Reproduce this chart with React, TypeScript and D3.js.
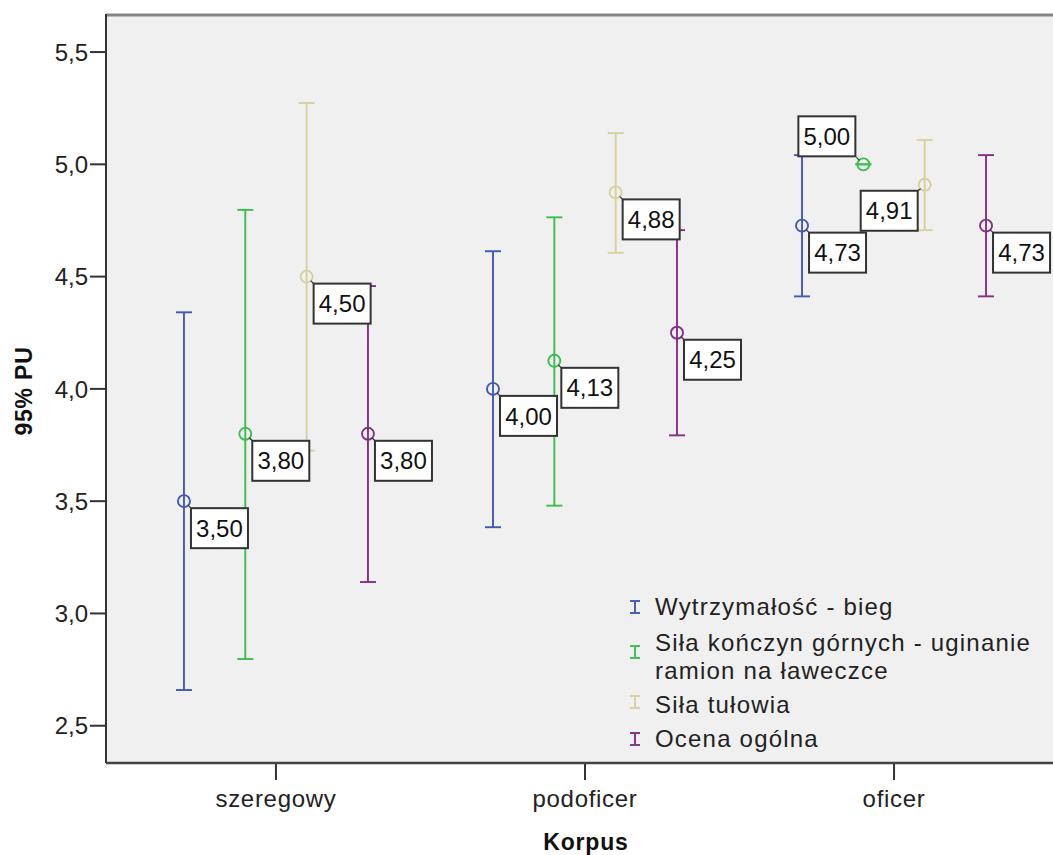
import React from "react";
import * as d3 from "d3";

// ---- Data ----
const categories = ["szeregowy", "podoficer", "oficer"];
const seriesNames = [
  "Wytrzymałość - bieg",
  "Siła kończyn górnych - uginanie ramion na ławeczce",
  "Siła tułowia",
  "Ocena ogólna",
];
const legendLines = [
  ["Wytrzymałość - bieg"],
  ["Siła kończyn górnych - uginanie", "ramion na ławeczce"],
  ["Siła tułowia"],
  ["Ocena ogólna"],
];
const seriesColors = ["#4059B4", "#3BBE4E", "#D6D29C", "#842F86"];

const meanWytrzymalosc = [3.5, 4.0, 4.727];
const lowerWytrzymalosc = [2.659, 3.384, 4.412];
const upperWytrzymalosc = [4.341, 4.613, 5.041];

const meanKonczyny = [3.8, 4.125, 5.0];
const lowerKonczyny = [2.797, 3.48, 5.0];
const upperKonczyny = [4.797, 4.764, 5.0];

const meanTulow = [4.5, 4.875, 4.909];
const lowerTulow = [3.725, 4.606, 4.707];
const upperTulow = [5.273, 5.139, 5.108];

const meanOcena = [3.8, 4.25, 4.727];
const lowerOcena = [3.14, 3.793, 4.412];
const upperOcena = [4.458, 4.707, 5.041];

// label box anchor per series per category: br = below-right, tl = above-left, bl = below-left
const labelPlacement = [
  ["br", "br", "br"],
  ["br", "br", "tl"],
  ["br", "br", "bl"],
  ["br", "br", "br"],
];

const yTicks = [2.5, 3.0, 3.5, 4.0, 4.5, 5.0, 5.5];
const yTitle = "95% PU";
const xTitle = "Korpus";

const means = [meanWytrzymalosc, meanKonczyny, meanTulow, meanOcena];
const lowers = [lowerWytrzymalosc, lowerKonczyny, lowerTulow, lowerOcena];
const uppers = [upperWytrzymalosc, upperKonczyny, upperTulow, upperOcena];

const W = 1053;
const H = 855;
const plot = { left: 106, right: 1064, top: 15, bottom: 763 };
const FONT = "'Liberation Sans', Arial, sans-serif";

export default function App() {
  const y = d3.scaleLinear().domain([2.334, 5.665]).range([plot.bottom, plot.top]);
  const x = d3.scalePoint<string>().domain(categories).range([plot.left, plot.right]).padding(0.55);
  const xo = d3.scalePoint<string>().domain(seriesNames).range([-92, 92]);
  const fmt = (v: number) => v.toFixed(2).replace(".", ",");
  const fmtTick = (v: number) => v.toFixed(1).replace(".", ",");

  const capW = 8;
  const r = 6;
  const boxW = 57;
  const boxH = 40;
  const off = 7;

  const marks: React.ReactNode[] = [];
  const labels: React.ReactNode[] = [];
  seriesNames.forEach((s, si) => {
    categories.forEach((c, ci) => {
      const cx = (x(c) as number) + (xo(s) as number);
      const m = y(means[si][ci]);
      const lo = y(lowers[si][ci]);
      const hi = y(uppers[si][ci]);
      const col = seriesColors[si];
      marks.push(
        <g key={`m-${si}-${ci}`} stroke={col} strokeWidth={1.9} fill="none">
          <line x1={cx} x2={cx} y1={hi} y2={lo} />
          <line x1={cx - capW} x2={cx + capW} y1={hi} y2={hi} />
          <line x1={cx - capW} x2={cx + capW} y1={lo} y2={lo} />
          <circle cx={cx} cy={m} r={r} />
        </g>
      );
      const pl = labelPlacement[si][ci];
      let bx = cx + off;
      let by = m + off;
      let lx = cx + off;
      let ly = m + off;
      if (pl === "tl") {
        bx = cx - off - 1 - boxW;
        by = m - off - 1 - boxH;
        lx = cx - off;
        ly = m - off;
      } else if (pl === "bl") {
        bx = cx - off - boxW;
        by = m + off - 1;
        lx = cx - off;
        ly = m + off - 1;
      }
      const dx = lx > cx ? 1 : -1;
      const dy = ly > m ? 1 : -1;
      labels.push(
        <g key={`l-${si}-${ci}`}>
          <line x1={cx + dx * 4} y1={m + dy * 4} x2={lx} y2={ly} stroke="#333" strokeWidth={1.2} />
          <rect x={bx} y={by} width={boxW} height={boxH} fill="#fff" stroke="#333" strokeWidth={2} />
          <text
            x={bx + boxW / 2}
            y={by + boxH / 2}
            dy="0.36em"
            textAnchor="middle"
            fontFamily={FONT}
            fontSize={24}
            fill="#111"
          >
            {fmt(means[si][ci])}
          </text>
        </g>
      );
    });
  });

  const legendX = 635;
  const legendTextX = 655;
  const legendBaselines = [[615], [651, 679], [713], [747]];
  const legendIconY = [607, 652, 702, 739];

  return (
    <svg
      width={W}
      height={H}
      style={{ position: "absolute", left: 0, top: 0, background: "#fff" }}
      fontFamily={FONT}
    >
      <rect x={plot.left} y={plot.top} width={plot.right - plot.left} height={plot.bottom - plot.top} fill="#f0f0f0" />
      <line x1={plot.left} x2={plot.right} y1={plot.top} y2={plot.top} stroke="#858585" strokeWidth={3} />

      {/* y axis */}
      {yTicks.map((t) => (
        <g key={`yt-${t}`}>
          <line x1={plot.left - 16} x2={plot.left} y1={y(t)} y2={y(t)} stroke="#333" strokeWidth={2} />
          <text x={88} y={y(t)} dy="0.36em" textAnchor="end" fontSize={24} fill="#222">
            {fmtTick(t)}
          </text>
        </g>
      ))}
      <text
        transform={`translate(32, 391) rotate(-90)`}
        textAnchor="middle"
        fontSize={23}
        fontWeight="bold"
        letterSpacing={0.8}
        fill="#111"
      >
        {yTitle}
      </text>

      {/* x axis */}
      {categories.map((c) => (
        <g key={`xt-${c}`}>
          <line x1={x(c)} x2={x(c)} y1={plot.bottom} y2={plot.bottom + 17} stroke="#333" strokeWidth={2} />
          <text x={x(c)} y={807} textAnchor="middle" fontSize={24} letterSpacing={0.7} fill="#222">
            {c}
          </text>
        </g>
      ))}
      <text x={586} y={850} textAnchor="middle" fontSize={23} fontWeight="bold" letterSpacing={0.8} fill="#111">
        {xTitle}
      </text>

      {marks}

      {/* legend */}
      {seriesNames.map((s, i) => (
        <g key={`lg-${i}`}>
          <g stroke={seriesColors[i]} strokeWidth={1.9}>
            <line x1={legendX} x2={legendX} y1={legendIconY[i] - 6} y2={legendIconY[i] + 6} />
            <line x1={legendX - 5} x2={legendX + 5} y1={legendIconY[i] - 6} y2={legendIconY[i] - 6} />
            <line x1={legendX - 5} x2={legendX + 5} y1={legendIconY[i] + 6} y2={legendIconY[i] + 6} />
          </g>
          {legendLines[i].map((ln, k) => (
            <text key={k} x={legendTextX} y={legendBaselines[i][k]} fontSize={24} letterSpacing={1.2} fill="#222">
              {ln}
            </text>
          ))}
        </g>
      ))}

      {labels}

      <line x1={plot.left} x2={plot.left} y1={plot.top - 1} y2={plot.bottom} stroke="#333" strokeWidth={2} />
      <line x1={plot.left} x2={plot.right} y1={plot.bottom} y2={plot.bottom} stroke="#444" strokeWidth={2.5} />
    </svg>
  );
}
